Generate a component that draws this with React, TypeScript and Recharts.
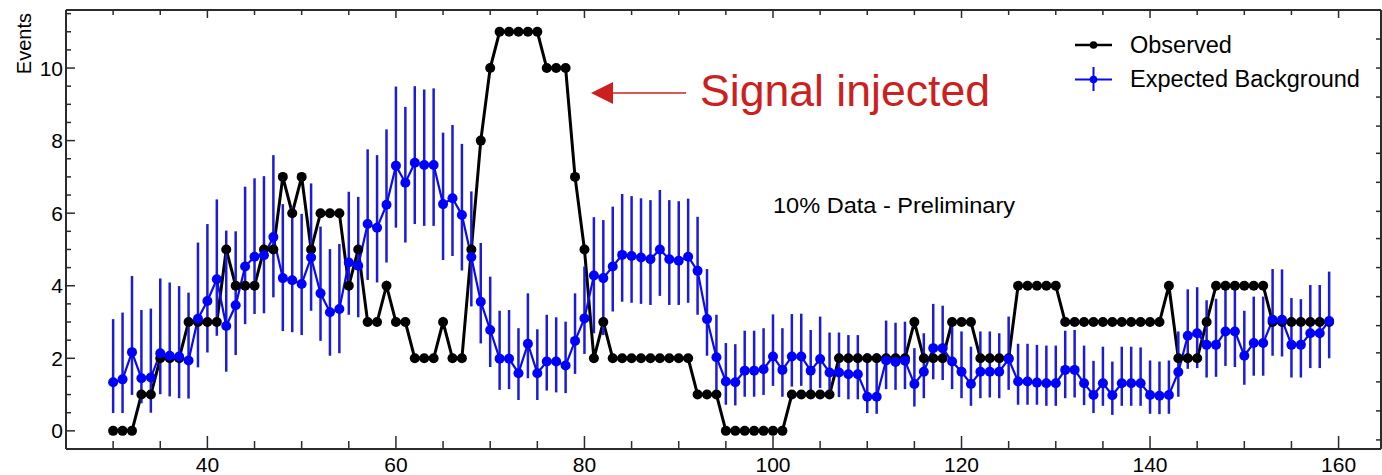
import React from "react";
import { LineChart, Line, XAxis, YAxis, ErrorBar, ReferenceLine } from "recharts";

// bins run 30..159, one point per bin
const firstBin = 30;

const observed = [
  0, 0, 0, 1, 1, 2, 2, 2, 3, 3,
  3, 3, 5, 4, 4, 4, 5, 5, 7, 6,
  7, 5, 6, 6, 6, 4, 5, 3, 3, 4,
  3, 3, 2, 2, 2, 3, 2, 2, 5, 8,
  10, 11, 11, 11, 11, 11, 10, 10, 10, 7,
  5, 2, 3, 2, 2, 2, 2, 2, 2, 2,
  2, 2, 1, 1, 1, 0, 0, 0, 0, 0,
  0, 0, 1, 1, 1, 1, 1, 2, 2, 2,
  2, 2, 2, 2, 2, 3, 2, 2, 2, 3,
  3, 3, 2, 2, 2, 2, 4, 4, 4, 4,
  4, 3, 3, 3, 3, 3, 3, 3, 3, 3,
  3, 3, 4, 2, 2, 2, 3, 4, 4, 4,
  4, 4, 4, 3, 3, 3, 3, 3, 3, 3,
];

const expected = [
  1.34, 1.42, 2.17, 1.45, 1.47, 2.14, 2.07, 2.05, 1.94, 3.09,
  3.58, 4.18, 2.89, 3.46, 4.53, 4.8, 4.84, 5.34, 4.21, 4.15,
  4.05, 4.78, 3.79, 3.27, 3.36, 4.64, 4.55, 5.7, 5.6, 6.23,
  7.31, 6.84, 7.39, 7.33, 7.33, 6.25, 6.41, 5.95, 4.79, 3.56,
  2.78, 1.99, 1.99, 1.59, 2.4, 1.59, 1.91, 1.91, 1.8, 2.48,
  3.1, 4.28, 4.21, 4.53, 4.85, 4.82, 4.78, 4.73, 5.0, 4.73,
  4.69, 4.8, 4.41, 3.08, 2.03, 1.36, 1.34, 1.66, 1.66, 1.7,
  2.05, 1.68, 2.05, 2.05, 1.66, 1.98, 1.61, 1.61, 1.56, 1.56,
  0.94, 0.94, 1.94, 1.9, 1.93, 1.29, 1.63, 2.28, 2.28, 1.91,
  1.63, 1.29, 1.63, 1.63, 1.63, 1.98, 1.36, 1.36, 1.33, 1.31,
  1.31, 1.68, 1.68, 1.31, 0.99, 1.31, 0.98, 1.31, 1.31, 1.31,
  0.99, 0.97, 0.99, 1.62, 2.62, 2.69, 2.37, 2.37, 2.74, 2.74,
  2.07, 2.42, 2.42, 3.06, 3.06, 2.37, 2.37, 2.69, 2.69, 3.03,
];

// lower / upper ends of the background error bars
const expectedLow = [
  0.49, 0.49, 0.99, 0.76, 0.5, 1.01, 0.95, 0.9, 0.89, 1.75,
  2.16, 2.62, 1.63, 2.09, 2.94, 3.22, 3.24, 3.68, 2.75, 2.72,
  2.64, 3.31, 2.48, 2.07, 2.14, 3.2, 3.13, 4.16, 4.09, 4.64,
  5.6, 5.19, 5.7, 5.65, 5.65, 4.71, 4.82, 4.42, 3.43, 2.41,
  1.76, 1.13, 1.15, 0.85, 1.45, 0.85, 1.11, 1.06, 1.04, 1.57,
  2.12, 2.69, 2.64, 3.29, 3.56, 3.53, 3.5, 3.47, 3.72, 3.47,
  3.47, 3.53, 3.2, 2.07, 1.13, 0.72, 0.7, 0.94, 0.94, 0.99,
  1.24, 0.94, 1.22, 1.24, 0.94, 1.18, 0.93, 0.93, 0.87, 0.87,
  0.49, 0.47, 1.15, 1.13, 1.15, 0.67, 0.9, 1.42, 1.4, 1.15,
  0.9, 0.69, 0.9, 0.92, 0.9, 1.13, 0.72, 0.72, 0.72, 0.69,
  0.69, 0.9, 0.92, 0.71, 0.49, 0.69, 0.44, 0.69, 0.69, 0.69,
  0.47, 0.46, 0.47, 0.94, 1.71, 1.73, 1.47, 1.49, 1.79, 1.76,
  1.27, 1.52, 1.52, 2.07, 2.05, 1.47, 1.47, 1.73, 1.73, 2.0,
];

const expectedHigh = [
  3.08, 3.26, 4.27, 3.33, 3.37, 4.2, 4.09, 3.99, 3.81, 5.19,
  5.7, 6.38, 5.52, 5.5, 6.73, 6.96, 7.02, 7.6, 6.25, 6.18,
  5.98, 6.82, 5.63, 5.01, 5.15, 6.59, 6.45, 7.76, 7.6, 8.31,
  9.49, 8.93, 9.5, 9.41, 9.44, 8.22, 8.43, 7.91, 6.6, 5.18,
  4.25, 3.31, 3.33, 2.83, 3.79, 2.8, 3.2, 3.13, 3.01, 3.79,
  4.53, 5.89, 5.81, 6.18, 6.53, 6.47, 6.41, 6.36, 6.64, 6.36,
  6.33, 6.4, 5.9, 4.46, 3.2, 2.42, 2.39, 2.76, 2.76, 2.83,
  3.21, 2.83, 3.22, 3.23, 2.78, 3.15, 2.71, 2.71, 2.64, 2.64,
  2.14, 2.14, 3.04, 2.98, 3.01, 2.28, 2.69, 3.5, 3.45, 3.01,
  2.74, 2.32, 2.74, 2.74, 2.69, 3.15, 2.4, 2.4, 2.37, 2.35,
  2.35, 2.76, 2.78, 2.35, 1.93, 2.32, 1.91, 2.32, 2.32, 2.3,
  1.94, 1.91, 1.94, 2.74, 3.9, 3.96, 3.6, 3.64, 4.05, 4.02,
  3.31, 3.7, 3.7, 4.46, 4.45, 3.66, 3.63, 4.02, 4.02, 4.39,
];

const xMajorTicks = [40, 60, 80, 100, 120, 140, 160];
const xMinorTicks = [
  30, 35, 45, 50, 55, 65, 70, 75, 85, 90, 95,
  105, 110, 115, 125, 130, 135, 145, 150, 155,
];
const yMajorTicks = [0, 2, 4, 6, 8, 10];
const yMinorTicks = [
  -0.5, 0.5, 1, 1.5, 2.5, 3, 3.5, 4.5, 5, 5.5,
  6.5, 7, 7.5, 8.5, 9, 9.5, 10.5, 11, 11.5,
];
const rightTicks = [
  10.8, 10.0, 9.2, 8.4, 7.65, 6.85, 6.05, 5.3, 4.5, 3.7, 2.9, 2.15, 1.35, 0.55, -0.25,
];

const xDomain = [25, 164.5];
const yDomain = [-0.5, 11.6];

const rows = observed.map((obs, i) => ({
  x: firstBin + i,
  obs,
  exp: expected[i],
  expErr: [expected[i] - expectedLow[i], expectedHigh[i] - expected[i]],
}));

const frame = "#2b2b2b";
const blue = "#0a0af0";
const font = "'Liberation Sans', Arial, Helvetica, sans-serif";

// short inward tick marks drawn at the ends of a reference line
function xTickShape(bottomLen: number, topLen: number) {
  return (p: any) => {
    const lo = Math.max(p.y1, p.y2);
    const hi = Math.min(p.y1, p.y2);
    return (
      <g>
        <line x1={p.x1} x2={p.x1} y1={lo} y2={lo - bottomLen} stroke={frame} strokeWidth={1.5} />
        <line x1={p.x1} x2={p.x1} y1={hi} y2={hi + topLen} stroke={frame} strokeWidth={1.5} />
      </g>
    );
  };
}

function yTickShape(leftLen: number, rightLen: number) {
  return (p: any) => {
    const l = Math.min(p.x1, p.x2);
    const r = Math.max(p.x1, p.x2);
    return (
      <g>
        {leftLen > 0 && <line x1={l} x2={l + leftLen} y1={p.y1} y2={p.y1} stroke={frame} strokeWidth={1.5} />}
        {rightLen > 0 && <line x1={r} x2={r - rightLen} y1={p.y1} y2={p.y1} stroke={frame} strokeWidth={1.5} />}
      </g>
    );
  };
}

export default function App() {
  return (
    <div style={{ position: "absolute", left: 0, top: 0, width: 1382, height: 475, background: "#fff", fontFamily: font }}>
      <LineChart width={1382} height={475} data={rows} margin={{ top: 10, right: 1, bottom: 0, left: 0 }}>
        <XAxis
          xAxisId="x"
          dataKey="x"
          type="number"
          domain={xDomain}
          allowDataOverflow
          ticks={xMajorTicks}
          interval={0}
          tickLine={false}
          tickSize={0}
          tickMargin={8}
          height={26}
          axisLine={{ stroke: frame, strokeWidth: 2 }}
          tick={{ fontSize: 21, fill: "#000", fontFamily: font }}
        />
        <YAxis
          yAxisId="y"
          type="number"
          domain={yDomain}
          allowDataOverflow
          ticks={yMajorTicks}
          interval={0}
          tickLine={false}
          tickSize={0}
          tickMargin={3}
          width={66}
          axisLine={{ stroke: frame, strokeWidth: 2 }}
          tick={{ fontSize: 21, fill: "#000", fontFamily: font }}
        />

        {/* top and right sides of the frame */}
        <ReferenceLine xAxisId="x" yAxisId="y" y={yDomain[1]} stroke={frame} strokeWidth={2} />
        <ReferenceLine xAxisId="x" yAxisId="y" x={xDomain[1]} stroke={frame} strokeWidth={2} />

        {/* inward ticks */}
        {xMajorTicks.map((t) => (
          <ReferenceLine key={`xM${t}`} xAxisId="x" yAxisId="y" x={t} shape={xTickShape(13, 8)} />
        ))}
        {xMinorTicks.map((t) => (
          <ReferenceLine key={`xm${t}`} xAxisId="x" yAxisId="y" x={t} shape={xTickShape(8, 5)} />
        ))}
        {yMajorTicks.map((t) => (
          <ReferenceLine key={`yM${t}`} xAxisId="x" yAxisId="y" y={t} shape={yTickShape(9, 0)} />
        ))}
        {yMinorTicks.map((t) => (
          <ReferenceLine key={`ym${t}`} xAxisId="x" yAxisId="y" y={t} shape={yTickShape(5, 0)} />
        ))}
        {rightTicks.map((t) => (
          <ReferenceLine key={`yr${t}`} xAxisId="x" yAxisId="y" y={t} shape={yTickShape(0, 5)} />
        ))}

        <Line
          xAxisId="x"
          yAxisId="y"
          dataKey="obs"
          type="linear"
          stroke="#000"
          strokeWidth={3}
          dot={{ r: 5, fill: "#000", stroke: "none" }}
          activeDot={false}
          isAnimationActive={false}
        />
        <Line
          xAxisId="x"
          yAxisId="y"
          dataKey="exp"
          type="linear"
          stroke={blue}
          strokeWidth={2.2}
          dot={{ r: 5, fill: "#0000ff", stroke: "none" }}
          activeDot={false}
          isAnimationActive={false}
        >
          <ErrorBar dataKey="expErr" direction="y" width={0} stroke="#1c1cd8" strokeWidth={2.5} isAnimationActive={false} />
        </Line>
      </LineChart>

      {/* annotations, legend and axis title */}
      <svg width={1382} height={475} style={{ position: "absolute", left: 0, top: 0, pointerEvents: "none" }} fontFamily={font}>
        <text transform="translate(31,13) rotate(-90)" textAnchor="end" fontSize={20} fill="#000">
          Events
        </text>

        <line x1={610} y1={93} x2={686} y2={93} stroke="#cc2020" strokeWidth={1.6} />
        <polygon points="591,93 613,82 613,104" fill="#cc2020" />
        <text x={700} y={106} fontSize={44} fill="#cc2020" textLength={290} lengthAdjust="spacingAndGlyphs">
          Signal injected
        </text>

        <text x={773} y={213} fontSize={22} fill="#000" textLength={242} lengthAdjust="spacingAndGlyphs">
          10% Data - Preliminary
        </text>

        <line x1={1075} y1={45} x2={1112} y2={45} stroke="#000" strokeWidth={2.5} />
        <circle cx={1093.5} cy={45} r={3.8} fill="#000" />
        <text x={1130} y={53} fontSize={23.5} fill="#000">
          Observed
        </text>

        <line x1={1075} y1={79.5} x2={1112} y2={79.5} stroke={blue} strokeWidth={2} />
        <line x1={1093.5} y1={67} x2={1093.5} y2={91} stroke={blue} strokeWidth={2} />
        <circle cx={1093.5} cy={79.5} r={3.8} fill="#0000ff" />
        <text x={1130} y={87} fontSize={23.5} fill="#000">
          Expected Background
        </text>
      </svg>
    </div>
  );
}
